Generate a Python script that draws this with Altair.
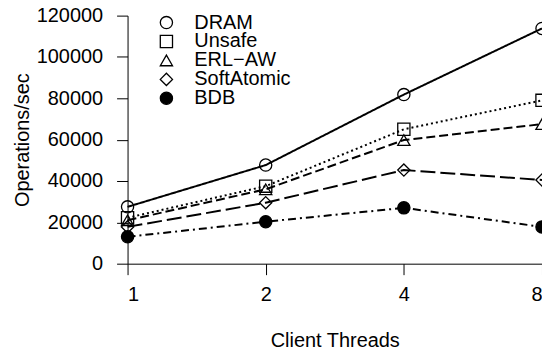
import altair as alt
import pandas as pd

threads = [1, 2, 4, 8]
series = ["DRAM", "Unsafe", "ERL\u2212AW", "SoftAtomic", "BDB"]
dram = [27500, 47700, 81800, 113800]
unsafe = [22200, 37500, 65000, 79000]
erl_aw = [21000, 36000, 59800, 67500]
softatomic = [17800, 29500, 45300, 40500]
bdb = [13000, 20300, 27000, 17800]

values = {"DRAM": dram, "Unsafe": unsafe, "ERL\u2212AW": erl_aw,
          "SoftAtomic": softatomic, "BDB": bdb}
rows = []
for s in series:
    for t, v in zip(threads, values[s]):
        rows.append({"threads": t, "ops": v, "series": s})
df = pd.DataFrame(rows)
legend_df = pd.DataFrame({"series": series})

FONT = "Liberation Sans"

x = alt.X("threads:Q", scale=alt.Scale(type="log", base=2, domain=[1, 8], nice=False),
          axis=alt.Axis(values=threads, title="Client Threads", format="d"))
y = alt.Y("ops:Q", scale=alt.Scale(domain=[0, 120000], nice=False),
          axis=alt.Axis(values=list(range(0, 120001, 20000)), format="d",
                        title="Operations/sec"))

dash_range = [[1, 0], [2, 3], [9, 4], [15, 5], [8, 4, 2, 4]]

shape_scale = alt.Scale(domain=series, range=["circle", "square", "triangle-up", "diamond", "circle"])
fill_scale = alt.Scale(domain=series, range=["transparent", "transparent", "transparent", "transparent", "black"])

lines = alt.Chart(df).mark_line(color="black", strokeWidth=2).encode(
    x=x, y=y,
    strokeDash=alt.StrokeDash("series:N", sort=series,
                              scale=alt.Scale(domain=series, range=dash_range), legend=None),
)

points = alt.Chart(df).mark_point(filled=True, stroke="black", strokeWidth=1.3, size=150, opacity=1).encode(
    x=x, y=y,
    shape=alt.Shape("series:N", sort=series, scale=shape_scale, legend=None),
    fill=alt.Fill("series:N", sort=series, scale=fill_scale, legend=None),
)

main = alt.layer(lines, points)

# legend built from the series list through a point scale
ly = alt.Y("series:N", sort=series,
           scale=alt.Scale(domain=series, range=[7, 83], padding=0), axis=None)

leg_sym = alt.Chart(legend_df).mark_point(filled=True, stroke="black", strokeWidth=1.3,
                                          size=150, opacity=1).encode(
    x=alt.value(39), y=ly,
    shape=alt.Shape("series:N", sort=series, scale=shape_scale, legend=None),
    fill=alt.Fill("series:N", sort=series, scale=fill_scale, legend=None),
)
leg_txt = alt.Chart(legend_df).mark_text(align="left", baseline="middle", font=FONT,
                                         fontSize=20, color="black").encode(
    x=alt.value(67), y=ly, text="series:N",
)
legend = alt.layer(leg_sym, leg_txt)

chart = alt.layer(main, legend).resolve_scale(y="independent").properties(
    width=416, height=249,
    autosize=alt.AutoSizeParams(type="none"),
    padding={"left": 120, "top": 7, "right": 0, "bottom": 87},
    background="white",
).configure_view(stroke=None).configure_axis(
    grid=False, domainColor="black", domainWidth=1, tickColor="black", tickWidth=1,
    tickSize=11, labelFont=FONT, labelFontSize=20, labelColor="black",
    titleFont=FONT, titleFontSize=20, titleFontWeight="normal", titleColor="black",
).configure_axisY(labelPadding=14, titlePadding=4).configure_axisX(
    labelPadding=10, titlePadding=26
)

chart.save("out.html", embed_options={"renderer": "svg", "actions": False})
